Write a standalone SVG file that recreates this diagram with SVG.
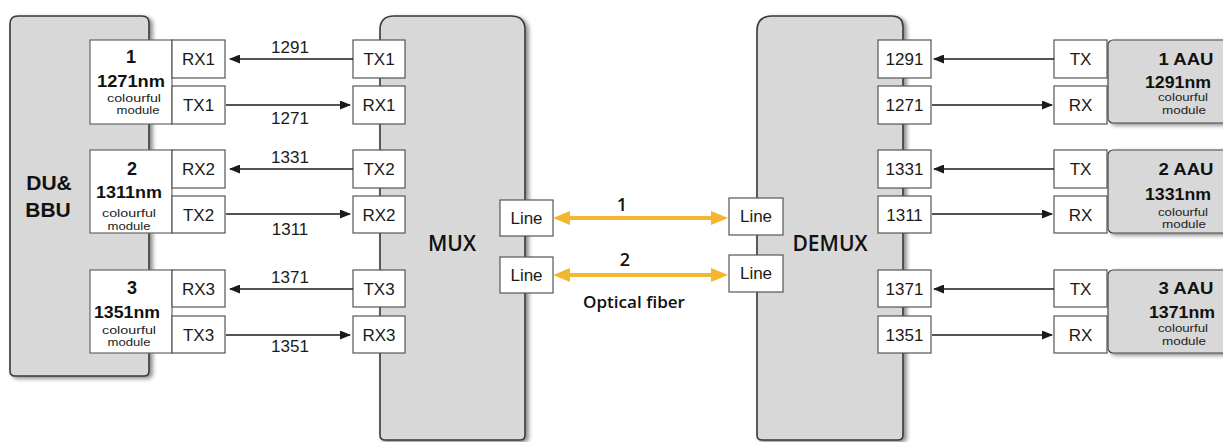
<svg xmlns="http://www.w3.org/2000/svg" width="1223" height="442" viewBox="0 0 1223 442">
<defs>
<filter id="sh" x="-10%" y="-10%" width="130%" height="130%">
<feDropShadow dx="3" dy="2" stdDeviation="2" flood-color="#000" flood-opacity="0.45"/>
</filter>
<marker id="ah" markerUnits="userSpaceOnUse" markerWidth="11" markerHeight="9" refX="10" refY="4.5" orient="auto">
<path d="M0,0 L11,4.5 L0,9 z" fill="#1a1a1a"/>
</marker>
<marker id="ya" markerUnits="userSpaceOnUse" markerWidth="17" markerHeight="14" refX="5" refY="7" orient="auto-start-reverse">
<path d="M0,0 L17,7 L0,14 z" fill="#f2b72e"/>
</marker>
</defs>
<style>
.big{fill:#d8d8d8;stroke:#3a3a3a;stroke-width:1.6;filter:url(#sh)}
.aau{fill:#d8d8d8;stroke:#444;stroke-width:1.2;filter:url(#sh)}
.box{fill:#fff;stroke:#555;stroke-width:1.2}
.mod{fill:#fff;stroke:#666;stroke-width:1.2}
.t{font-family:"Liberation Sans",Arial,sans-serif;font-size:17px;fill:#1a1a1a;text-anchor:middle}
.b{font-family:"Liberation Sans",Arial,sans-serif;font-weight:bold;fill:#111;text-anchor:middle}
.s{font-family:"Liberation Sans",Arial,sans-serif;font-size:11.5px;fill:#222;text-anchor:middle}
.o{font-family:"Open Sans","Noto Sans",sans-serif;font-weight:600;fill:#111;text-anchor:middle}
.c{stroke:#1a1a1a;stroke-width:1.5;fill:none;marker-end:url(#ah)}
.y{stroke:#f2b72e;stroke-width:4;fill:none;marker-start:url(#ya);marker-end:url(#ya)}
</style>

<g id="dubbu">
<path class="big" d="M18,16 H142 Q149,16 149,23 V371 Q149,376 144,376 H15 Q10,376 10,371 V24 Q10,16 18,16 Z"/>
<text class="b" x="49" y="190" font-size="21">DU&amp;</text>
<text class="b" x="48" y="217" font-size="21">BBU</text>
</g>

<g id="mux">
<path class="big" d="M394,16 H511 Q525,16 525,30 V435 Q525,440 520,440 H385 Q380,440 380,435 V30 Q380,16 394,16 Z"/>
<text class="o" x="452" y="251" font-size="21">MUX</text>
</g>

<g id="demux">
<path class="big" d="M772,16 H892 Q903,16 903,27 V435 Q903,440 898,440 H762 Q757,440 757,435 V31 Q757,16 772,16 Z"/>
<text class="o" x="830" y="251" font-size="21">DEMUX</text>
</g>

<g id="mod1">
<rect class="mod" x="90" y="40" width="82" height="84"/>
<rect class="box" x="172" y="40" width="53" height="38"/>
<rect class="box" x="172" y="86" width="53" height="38"/>
<text class="b" x="131" y="63" font-size="18">1</text>
<text class="b" x="131" y="87" font-size="16" textLength="68" lengthAdjust="spacingAndGlyphs">1271nm</text>
<text class="s" x="134" y="101.5" textLength="54" lengthAdjust="spacingAndGlyphs">colourful</text>
<text class="s" x="138" y="113.5" textLength="43" lengthAdjust="spacingAndGlyphs">module</text>
<text class="t" x="198.5" y="65">RX1</text>
<text class="t" x="198.5" y="111">TX1</text>
</g>
<g id="mod2">
<rect class="mod" x="90" y="150" width="82" height="83"/>
<rect class="box" x="172" y="150" width="53" height="38"/>
<rect class="box" x="172" y="196" width="53" height="37"/>
<text class="b" x="132" y="175" font-size="18">2</text>
<text class="b" x="129" y="198" font-size="16" textLength="66" lengthAdjust="spacingAndGlyphs">1311nm</text>
<text class="s" x="129" y="216.5" textLength="54" lengthAdjust="spacingAndGlyphs">colourful</text>
<text class="s" x="129" y="229.5" textLength="43" lengthAdjust="spacingAndGlyphs">module</text>
<text class="t" x="198.5" y="175">RX2</text>
<text class="t" x="198.5" y="221">TX2</text>
</g>
<g id="mod3">
<rect class="mod" x="90" y="270" width="82" height="83"/>
<rect class="box" x="172" y="270" width="53" height="37"/>
<rect class="box" x="172" y="316" width="53" height="37"/>
<text class="b" x="132" y="294" font-size="18">3</text>
<text class="b" x="127" y="318" font-size="16" textLength="66" lengthAdjust="spacingAndGlyphs">1351nm</text>
<text class="s" x="129" y="333.5" textLength="54" lengthAdjust="spacingAndGlyphs">colourful</text>
<text class="s" x="129" y="345.5" textLength="43" lengthAdjust="spacingAndGlyphs">module</text>
<text class="t" x="198.5" y="295">RX3</text>
<text class="t" x="198.5" y="341">TX3</text>
</g>

<g id="mux-ports">
<rect class="box" x="353" y="40" width="52" height="38"/>
<rect class="box" x="353" y="86" width="52" height="38"/>
<rect class="box" x="353" y="150" width="52" height="38"/>
<rect class="box" x="353" y="196" width="52" height="37"/>
<rect class="box" x="353" y="270" width="52" height="37"/>
<rect class="box" x="353" y="316" width="52" height="37"/>
<text class="t" x="379" y="65">TX1</text>
<text class="t" x="379" y="111">RX1</text>
<text class="t" x="379" y="175">TX2</text>
<text class="t" x="379" y="221">RX2</text>
<text class="t" x="379" y="295">TX3</text>
<text class="t" x="379" y="341">RX3</text>
</g>
<g id="mux-line">
<rect class="box" x="500" y="200" width="53" height="36"/>
<rect class="box" x="500" y="257" width="53" height="36"/>
<text class="t" x="526.5" y="224">Line</text>
<text class="t" x="526.5" y="281">Line</text>
</g>

<g id="demux-line">
<rect class="box" x="729" y="198" width="54" height="37"/>
<rect class="box" x="729" y="255" width="54" height="37"/>
<text class="t" x="756" y="222">Line</text>
<text class="t" x="756" y="279">Line</text>
</g>
<g id="demux-ports">
<rect class="box" x="878" y="40" width="53" height="38"/>
<rect class="box" x="878" y="86" width="53" height="38"/>
<rect class="box" x="878" y="150" width="53" height="38"/>
<rect class="box" x="878" y="196" width="53" height="37"/>
<rect class="box" x="878" y="270" width="53" height="37"/>
<rect class="box" x="878" y="316" width="53" height="37"/>
<text class="t" x="904.5" y="65">1291</text>
<text class="t" x="904.5" y="111">1271</text>
<text class="t" x="904.5" y="175">1331</text>
<text class="t" x="904.5" y="221">1311</text>
<text class="t" x="904.5" y="295">1371</text>
<text class="t" x="904.5" y="341">1351</text>
</g>

<g id="aau1">
<rect class="aau" x="1108" y="40" width="125" height="83" rx="5"/>
<rect class="box" x="1054" y="40" width="53" height="38"/>
<rect class="box" x="1054" y="86" width="53" height="38"/>
<text class="t" x="1080.5" y="65">TX</text>
<text class="t" x="1080.5" y="111">RX</text>
<text class="b" x="1186" y="65" font-size="16" textLength="55" lengthAdjust="spacingAndGlyphs">1 AAU</text>
<text class="b" x="1178" y="88" font-size="16" textLength="66" lengthAdjust="spacingAndGlyphs">1291nm</text>
<text class="s" x="1183" y="101" textLength="50" lengthAdjust="spacingAndGlyphs">colourful</text>
<text class="s" x="1184" y="113.5" textLength="44" lengthAdjust="spacingAndGlyphs">module</text>
</g>
<g id="aau2">
<rect class="aau" x="1108" y="150" width="125" height="83" rx="5"/>
<rect class="box" x="1054" y="150" width="53" height="38"/>
<rect class="box" x="1054" y="196" width="53" height="37"/>
<text class="t" x="1080.5" y="175">TX</text>
<text class="t" x="1080.5" y="221">RX</text>
<text class="b" x="1186" y="175" font-size="16" textLength="55" lengthAdjust="spacingAndGlyphs">2 AAU</text>
<text class="b" x="1178" y="200" font-size="16" textLength="66" lengthAdjust="spacingAndGlyphs">1331nm</text>
<text class="s" x="1183" y="215.5" textLength="50" lengthAdjust="spacingAndGlyphs">colourful</text>
<text class="s" x="1184" y="228" textLength="44" lengthAdjust="spacingAndGlyphs">module</text>
</g>
<g id="aau3">
<rect class="aau" x="1108" y="270" width="125" height="83" rx="5"/>
<rect class="box" x="1054" y="270" width="53" height="37"/>
<rect class="box" x="1054" y="316" width="53" height="37"/>
<text class="t" x="1080.5" y="295">TX</text>
<text class="t" x="1080.5" y="341">RX</text>
<text class="b" x="1186" y="294" font-size="16" textLength="55" lengthAdjust="spacingAndGlyphs">3 AAU</text>
<text class="b" x="1182" y="318" font-size="16" textLength="66" lengthAdjust="spacingAndGlyphs">1371nm</text>
<text class="s" x="1183" y="332" textLength="50" lengthAdjust="spacingAndGlyphs">colourful</text>
<text class="s" x="1184" y="344.5" textLength="44" lengthAdjust="spacingAndGlyphs">module</text>
</g>

<g id="connectors">
<line class="c" x1="353" y1="59" x2="230" y2="59"/>
<line class="c" x1="226" y1="105" x2="350" y2="105"/>
<line class="c" x1="353" y1="169" x2="230" y2="169"/>
<line class="c" x1="226" y1="214" x2="350" y2="214"/>
<line class="c" x1="353" y1="289" x2="230" y2="289"/>
<line class="c" x1="226" y1="335" x2="350" y2="335"/>

<line class="c" x1="1054" y1="59" x2="934" y2="59"/>
<line class="c" x1="932" y1="105" x2="1052" y2="105"/>
<line class="c" x1="1054" y1="169" x2="934" y2="169"/>
<line class="c" x1="932" y1="214" x2="1052" y2="214"/>
<line class="c" x1="1054" y1="289" x2="934" y2="289"/>
<line class="c" x1="932" y1="335" x2="1052" y2="335"/>

<line class="y" x1="565" y1="218" x2="716" y2="218"/>
<line class="y" x1="565" y1="275" x2="716" y2="275"/>

<text class="t" x="290" y="53">1291</text>
<text class="t" x="290" y="124">1271</text>
<text class="t" x="290" y="163">1331</text>
<text class="t" x="290" y="235">1311</text>
<text class="t" x="290" y="283">1371</text>
<text class="t" x="290" y="352">1351</text>

<text class="o" x="622" y="211" font-size="18">1</text>
<text class="o" x="625" y="266" font-size="18">2</text>
<text class="o" x="634" y="308" font-size="16" textLength="102" lengthAdjust="spacingAndGlyphs">Optical fiber</text>
</g>
</svg>
